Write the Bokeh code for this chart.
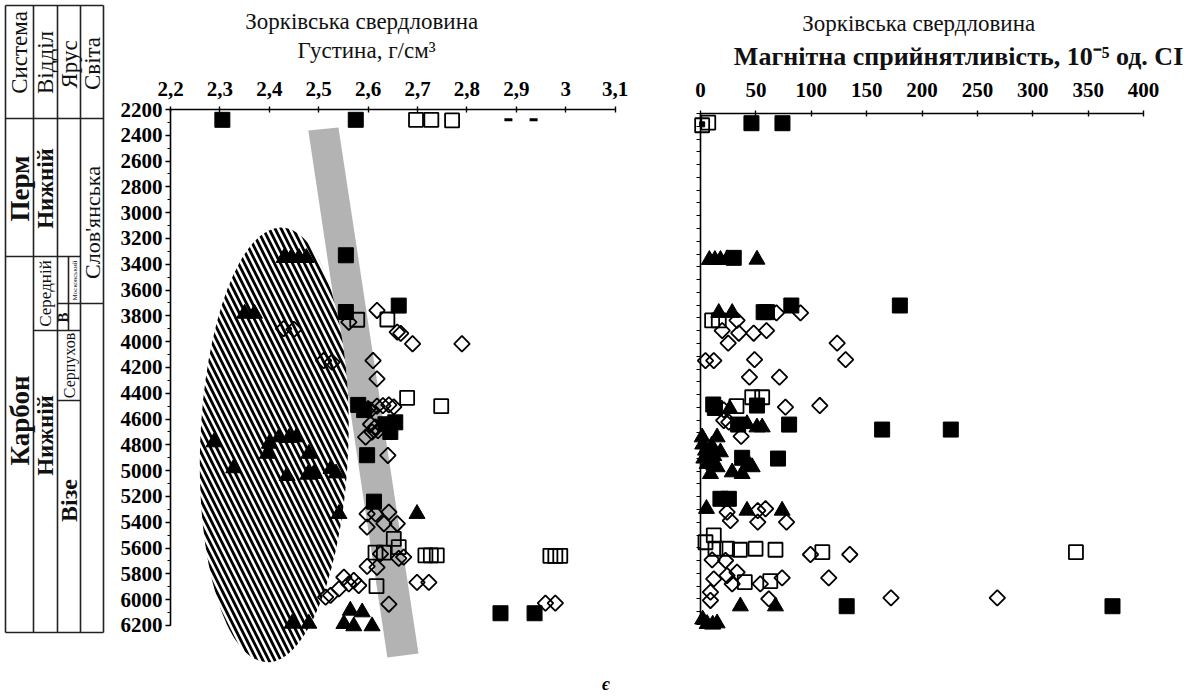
import numpy as np
from bokeh.plotting import figure
from bokeh.models import Range1d, FixedTicker, CustomJSTickFormatter, ColumnDataSource
from bokeh.layouts import row
from bokeh.embed import file_html
from bokeh.resources import INLINE
from bokeh.core.properties import value

SERIF = "Liberation Serif"

# ---------------------------------------------------------------- texts
well_name = "Зорківська свердловина"
density_title = "Густина, г/см³"
magnetic_title = "Магнітна сприйнятливість, 10⁻⁵ од. СІ"
footer_label = "є"

# ---------------------------------------------------------------- ticks
depth_ticks = list(range(2200, 6201, 200))
depth_minor = list(range(2200, 6201, 100))
density_ticks = [2.2, 2.3, 2.4, 2.5, 2.6, 2.7, 2.8, 2.9, 3.0, 3.1]
density_tick_labels = ["2,2", "2,3", "2,4", "2,5", "2,6", "2,7", "2,8", "2,9", "3", "3,1"]
magnetic_ticks = [0, 50, 100, 150, 200, 250, 300, 350, 400]

# ---------------------------------------------------------------- density (g/cm3) vs depth (m)
den_fsq_x = [2.305, 2.575, 2.555, 2.662, 2.555, 2.580, 2.592, 2.635, 2.655, 2.645, 2.598, 2.612, 2.868, 2.937]
den_fsq_d = [2280, 2280, 3330, 3720, 3770, 4490, 4530, 4640, 4625, 4700, 4880, 5240, 6105, 6105]

den_osq_x = [2.697, 2.728, 2.770, 2.578, 2.639, 2.679, 2.748, 2.652, 2.662, 2.615, 2.632,
             2.716, 2.727, 2.739, 2.969, 2.979, 2.989, 2.617]
den_osq_d = [2280, 2280, 2285, 3830, 3828, 4435, 4500, 5528, 5593, 5635, 5635,
             5657, 5657, 5657, 5660, 5660, 5660, 5895]

den_dia_x = [2.618, 2.561, 2.429, 2.450, 2.659, 2.666, 2.690, 2.790, 2.510, 2.527, 2.610, 2.618,
             2.618, 2.630, 2.642, 2.652, 2.600, 2.605, 2.605, 2.615, 2.620, 2.608, 2.595, 2.640,
             2.598, 2.615, 2.642, 2.659, 2.598, 2.632, 2.625, 2.662, 2.672, 2.598, 2.618,
             2.699, 2.723, 2.551, 2.571, 2.581, 2.561, 2.541, 2.514, 2.524, 2.642, 2.959, 2.979]
den_dia_d = [3758, 3849, 3898, 3905, 3926, 3936, 4016, 4016, 4146, 4159, 4146, 4288,
             4500, 4495, 4490, 4505, 4520, 4530, 4640, 4660, 4690, 4700, 4740, 4882,
             5334, 5334, 5321, 5411, 5437, 5411, 5644, 5680, 5670, 5742, 5750,
             5866, 5866, 5826, 5851, 5890, 5877, 5916, 5980, 5967, 6035, 6027, 6027]

den_tri_x = [2.430, 2.445, 2.460, 2.475, 2.350, 2.370, 2.288, 2.400, 2.420, 2.440, 2.455,
             2.396, 2.480, 2.328, 2.436, 2.478, 2.490, 2.525, 2.535, 2.541, 2.699,
             2.446, 2.480, 2.551, 2.564, 2.588, 2.571, 2.608]
den_tri_d = [3350, 3345, 3350, 3350, 3782, 3782, 4779, 4790, 4740, 4745, 4740,
             4868, 4868, 4980, 5040, 5030, 5025, 4985, 5020, 5334, 5334,
             6185, 6185, 6187, 6084, 6097, 6205, 6205]

den_dash_x = [2.884, 2.935]
den_dash_d = [2280, 2280]

# interpretation shapes on the density panel
trend_band_x = [2.479, 2.540, 2.702, 2.639]
trend_band_d = [2363, 2340, 6417, 6448]
cloud_center = (2.410, 4800)     # density, depth
cloud_size = (0.300, 3375)       # width (g/cm3), height (m)
cloud_tilt_deg = -2.0

# ---------------------------------------------------------------- magnetic susceptibility vs depth
mag_fsq_x = [46, 74, 30, 82, 180, 57, 60, 11.5, 13, 51, 34, 80, 164, 226, 37.6, 70, 18, 25.6, 132, 372]
mag_fsq_d = [2276, 2276, 3330, 3703, 3703, 3755, 3755, 4478, 4505, 4486, 4635, 4635, 4674, 4674,
             4895, 4901, 5216, 5216, 6057, 6057]

mag_dot_x = [1.5]
mag_dot_d = [2285]

mag_osq_x = [7, 1.5, 10.5, 16.5, 46.7, 55.7, 32.5, 12, 4.5, 13.5, 24, 35.5, 49.7, 67.7, 110, 339, 40, 63]
mag_osq_d = [2272, 2292, 3820, 3820, 4421, 4421, 4491, 5503, 5556, 5607, 5607, 5615, 5607, 5615,
             5634, 5634, 5869, 5861]

mag_dia_x = [68.6, 90.3, 33, 19.6, 34.6, 48, 59.6, 25, 123.4, 4.5, 12, 48.8, 131, 44.2, 71.3,
             76.7, 107.7, 21, 21, 25.6, 36.7, 24, 27, 51.7, 58.7, 51.7, 77.7, 99.3, 134.8,
             10.5, 22.6, 12, 24, 33, 28.6, 54, 73.7, 115.8, 9, 9, 61.7, 172, 268]
mag_dia_d = [3760, 3760, 3820, 3899, 3920, 3920, 3899, 3998, 3998, 4134, 4134, 4126, 4126, 4264, 4264,
             4499, 4486, 4520, 4603, 4616, 4728, 5321, 5386, 5308, 5294, 5399, 5399, 5652, 5652,
             5694, 5699, 5843, 5817, 5791, 5882, 5882, 5835, 5835, 5947, 6012, 5999, 5991, 5991]

mag_tri_x = [8, 13, 18, 24, 51, 16.5, 28.6, 26.5, 42, 51, 55.7, 1.5, 15, 2, 10, 4.5, 18, 3, 12,
             6, 15, 28.6, 37.6, 45, 12, 42, 46.7, 9, 5.4, 42, 73.7, 36, 67.7, 2, 6, 11, 15]
mag_tri_d = [3345, 3345, 3345, 3340, 3343, 3760, 3760, 4512, 4630, 4656, 4656, 4734, 4734, 4790, 4800,
             4838, 4851, 4900, 4880, 4942, 4968, 5008, 5021, 4960, 4955, 4955, 4968, 5021, 5294, 5308,
             5308, 6057, 6057, 6160, 6195, 6200, 6190]

# ---------------------------------------------------------------- stratigraphic column (own box units, px-like)
strat_names = ["Система", "Відділ", "Ярус", "Світа",
               "Перм", "Нижній", "Слов'янська",
               "Карбон", "Середній", "Нижній", "В", "Московський", "Серпухов", "Візе"]
strat_cx = [19, 45, 68.5, 91.5, 19, 45, 91.5, 19, 45, 45, 62.5, 74, 68.5, 68.5]
strat_cy = [52, 62, 64, 63, 188, 188, 222, 420, 293, 435, 317, 280, 365, 500]
strat_size = ["23px", "23px", "23px", "23px", "27px", "23px", "22px",
              "27px", "17px", "23px", "15px", "7px", "16px", "24px"]
strat_style = ["normal", "normal", "normal", "normal", "bold", "bold", "normal",
               "bold", "normal", "bold", "bold", "normal", "normal", "bold"]
strat_seg_x0 = [5, 103, 5, 5, 5, 33, 57, 80, 5, 33, 57, 57, 68, 57, 57, 80]
strat_seg_y0 = [5, 5, 632, 118, 5, 5, 5, 5, 256, 330, 256, 303, 256, 330, 400, 303]
strat_seg_x1 = [103, 103, 103, 103, 5, 33, 57, 80, 57, 57, 80, 80, 68, 80, 80, 103]
strat_seg_y1 = [5, 632, 632, 118, 632, 632, 632, 632, 256, 330, 256, 303, 330, 330, 400, 303]

# ---------------------------------------------------------------- layout geometry
ROW_H = 697
COL_W, DEN_W, MAG_W = 115, 545, 527


def bare(p):
    p.grid.visible = False
    p.outline_line_color = None
    p.background_fill_color = "white"
    p.border_fill_color = "white"


def style_axis(ax, size="21px"):
    ax.axis_line_color = "black"
    ax.axis_line_width = 1.6
    ax.major_tick_line_color = "black"
    ax.major_tick_line_width = 1.4
    ax.minor_tick_line_color = "black"
    ax.minor_tick_line_width = 1.2
    ax.major_label_text_font = SERIF
    ax.major_label_text_font_style = "bold"
    ax.major_label_text_font_size = size
    ax.major_label_text_color = "black"


# ---------------------------------------------------------------- stratigraphic column figure
pc = figure(width=COL_W, height=ROW_H, x_range=Range1d(0, COL_W), y_range=Range1d(ROW_H, 0),
            output_backend="svg", toolbar_location=None, min_border=0, title=None,
            x_axis_location=None, y_axis_location=None)
bare(pc)
pc.segment(x0=strat_seg_x0, y0=strat_seg_y0, x1=strat_seg_x1, y1=strat_seg_y1,
           line_color="#222222", line_width=1.6)
src_c = ColumnDataSource(dict(x=strat_cx, y=strat_cy, t=strat_names, s=strat_size, st=strat_style))
pc.text(x="x", y="y", text="t", source=src_c, angle=np.pi / 2, text_align="center",
        text_baseline="middle", text_font=value(SERIF), text_font_size="s",
        text_font_style="st", text_color="#111111")

# ---------------------------------------------------------------- density figure
# frame fills the whole figure; axes are pinned with fixed_location
den_px_per_unit = 494.0
den_m_per_px = 7.752
den = figure(width=DEN_W, height=ROW_H,
             x_range=Range1d(2.2 - 55 / den_px_per_unit, 2.2 + (DEN_W - 55) / den_px_per_unit),
             y_range=Range1d(2200 + (ROW_H - 109) * den_m_per_px, 2200 - 109 * den_m_per_px),
             x_axis_location="above", output_backend="svg", toolbar_location=None,
             min_border=0, title=None)
bare(den)
den.xaxis.fixed_location = 2200
den.xaxis.ticker = FixedTicker(ticks=density_ticks)
den.xaxis.formatter = CustomJSTickFormatter(args=dict(tv=density_ticks, tl=density_tick_labels), code="""
let b = 0;
for (let i = 0; i < tv.length; i++) { if (Math.abs(tv[i] - tick) < Math.abs(tv[b] - tick)) b = i; }
return tl[b];
""")
den.xaxis.bounds = (2.2, 3.1)
den.xaxis.major_tick_in = 3
den.xaxis.major_tick_out = 3
den.xaxis.major_label_standoff = 11
den.yaxis.fixed_location = 2.2
den.yaxis.ticker = FixedTicker(ticks=depth_ticks, minor_ticks=depth_minor)
den.yaxis.bounds = (2200, 6200)
den.yaxis.major_tick_in = 0
den.yaxis.major_tick_out = 5
den.yaxis.minor_tick_in = 0
den.yaxis.minor_tick_out = 3
den.yaxis.major_label_standoff = 3
style_axis(den.xaxis[0])
style_axis(den.yaxis[0])

den.text(x=[2.587], y=[1518], text=[well_name], text_font=value(SERIF), text_font_size="23px",
         text_align="center", text_baseline="middle", text_color="#111111")
den.text(x=[2.597], y=[1742], text=[density_title], text_font=value(SERIF), text_font_size="23px",
         text_align="center", text_baseline="middle", text_color="#111111")
den.text(x=[3.081], y=[6650], text=[footer_label], text_font=value(SERIF), text_font_size="18px",
         text_font_style="bold italic", text_align="center", text_baseline="middle")

den.patch(trend_band_x, trend_band_d, fill_color="#b3b3b3", line_color=None)
den.ellipse(x=[cloud_center[0]], y=[cloud_center[1]], width=[cloud_size[0]], height=[cloud_size[1]],
            angle=np.deg2rad(cloud_tilt_deg), fill_color="white", line_color=None,
            hatch_pattern="\\", hatch_color="black", hatch_weight=2.8, hatch_scale=12)

den.scatter(den_tri_x, den_tri_d, marker="triangle", size=16, fill_color="black", line_color="black")
den.scatter(den_dia_x, den_dia_d, marker="square", angle=np.pi / 4, size=11, fill_color="white",
            fill_alpha=0.0, line_color="black", line_width=1.8)
den.scatter(den_osq_x, den_osq_d, marker="square", size=14, fill_color="white", fill_alpha=0.0,
            line_color="black", line_width=1.8)
den.scatter(den_fsq_x, den_fsq_d, marker="square", size=15, fill_color="black", line_color="black")
den.scatter(den_dash_x, den_dash_d, marker="dash", size=8, line_color="black", line_width=3)

# ---------------------------------------------------------------- magnetic figure
mag_px_per_unit = 443.0 / 400.0
mag_m_per_px = 4000.0 / 511.0
mag = figure(width=MAG_W, height=ROW_H,
             x_range=Range1d(-40 / mag_px_per_unit, (MAG_W - 40) / mag_px_per_unit),
             y_range=Range1d(2200 + (ROW_H - 113) * mag_m_per_px, 2200 - 113 * mag_m_per_px),
             x_axis_location="above", output_backend="svg", toolbar_location=None,
             min_border=0, title=None)
bare(mag)
mag.xaxis.fixed_location = 2200
mag.xaxis.ticker = FixedTicker(ticks=magnetic_ticks)
mag.xaxis.bounds = (0, 400)
mag.xaxis.major_tick_in = 3
mag.xaxis.major_tick_out = 3
mag.xaxis.major_label_standoff = 14
mag.yaxis.fixed_location = 0
mag.yaxis.ticker = FixedTicker(ticks=[], minor_ticks=depth_minor)
mag.yaxis.bounds = (2200, 6200)
mag.yaxis.minor_tick_in = 0
mag.yaxis.minor_tick_out = 4
style_axis(mag.xaxis[0])
style_axis(mag.yaxis[0])

mag.text(x=[197], y=[1495], text=[well_name], text_font=value(SERIF), text_font_size="23px",
         text_align="center", text_baseline="middle", text_color="#111111")
mag.text(x=[233], y=[1750], text=[magnetic_title], text_font=value(SERIF), text_font_size="26px",
         text_font_style="bold", text_align="center", text_baseline="middle", text_color="#111111")

mag.scatter(mag_tri_x, mag_tri_d, marker="triangle", size=16, fill_color="black", line_color="black")
mag.scatter(mag_dia_x, mag_dia_d, marker="square", angle=np.pi / 4, size=11, fill_color="white",
            fill_alpha=0.0, line_color="black", line_width=1.8)
mag.scatter(mag_osq_x, mag_osq_d, marker="square", size=14, fill_color="white", fill_alpha=0.0,
            line_color="black", line_width=1.8)
mag.scatter(mag_fsq_x, mag_fsq_d, marker="square", size=15, fill_color="black", line_color="black")
mag.scatter(mag_dot_x, mag_dot_d, marker="square", size=5, fill_color="black", line_color="black")

layout = row(pc, den, mag)
open("out.html", "w").write(file_html(layout, INLINE))
